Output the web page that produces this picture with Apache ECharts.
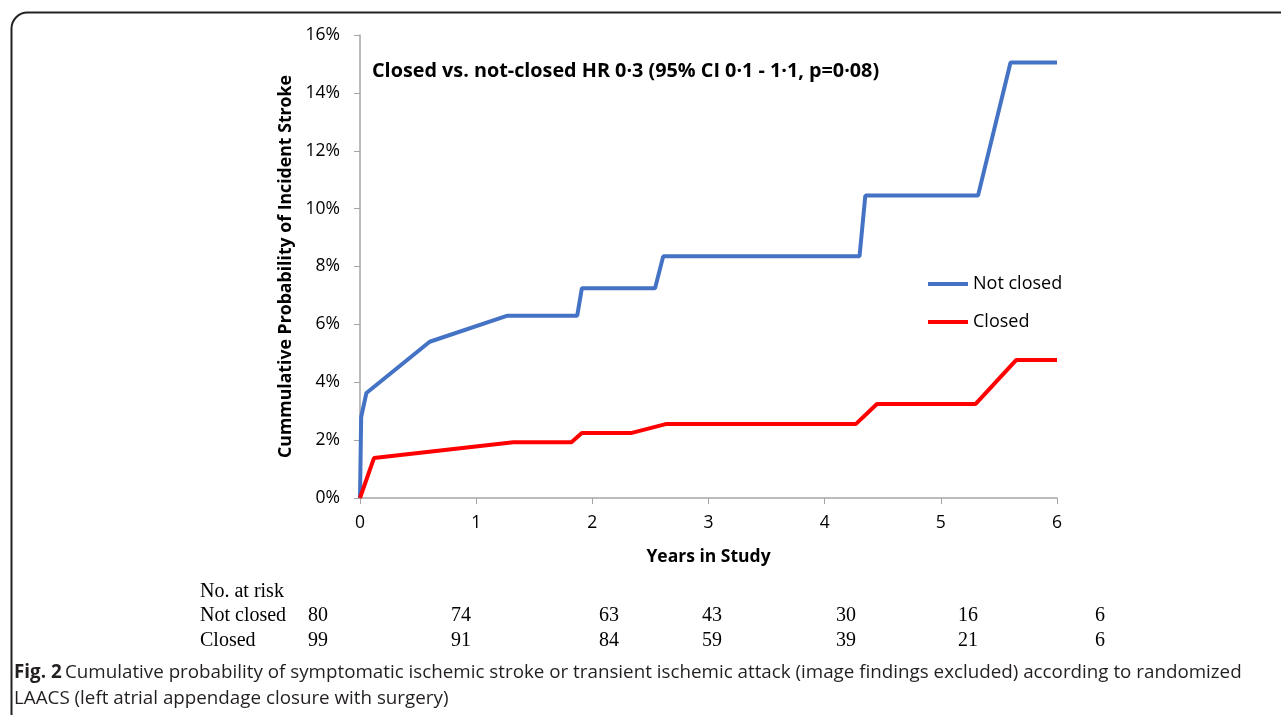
<!DOCTYPE html>
<html>
<head>
<meta charset="utf-8">
<script src="https://cdn.jsdelivr.net/npm/echarts@6/dist/echarts.min.js"></script>
<style>
html, body { margin: 0; padding: 0; background: #fff; }
#main { width: 1281px; height: 715px; }
</style>
</head>
<body>
<div id="main"></div>
<script>
// Kaplan-Meier style curves, x = years, y = cumulative probability
var notClosedYears = [0, 0.01, 0.055, 0.6, 1.27, 1.87, 1.91, 2.54, 2.61, 4.30, 4.35, 5.32, 5.6, 6];
var notClosedProb  = [0, 0.028, 0.0363, 0.054, 0.063, 0.063, 0.0725, 0.0725, 0.0835, 0.0835, 0.1045, 0.1045, 0.1505, 0.1505];
var closedYears = [0, 0.12, 1.32, 1.82, 1.91, 2.34, 2.64, 4.27, 4.45, 5.30, 5.65, 6];
var closedProb  = [0, 0.0138, 0.0193, 0.0193, 0.0225, 0.0225, 0.0256, 0.0256, 0.0325, 0.0325, 0.0477, 0.0477];

var seriesNames = ['Not closed', 'Closed'];

// numbers at risk
var riskNotClosed = [80, 74, 63, 43, 30, 16, 6];
var riskClosed    = [99, 91, 84, 59, 39, 21, 6];
var riskColX      = [318, 461, 609, 712, 846, 968, 1100];

var annotation = 'Closed vs. not-closed HR 0\u00b73 (95% CI 0\u00b71 - 1\u00b71, p=0\u00b708)';

function pairs(xs, ys) {
    var out = [];
    for (var i = 0; i < xs.length; i++) out.push([xs[i], ys[i]]);
    return out;
}

var chart = echarts.init(document.getElementById('main'));

var sans = '"Open Sans", Lato, sans-serif';
var serif = '"Liberation Serif", "DejaVu Serif", serif';

var graphics = [
    { type: 'rect', left: 9, top: 10, shape: { width: 1300, height: 720, r: 16 },
      style: { fill: 'none', stroke: '#222', lineWidth: 2 }, silent: true },
    { type: 'text', left: 372, top: 61,
      style: { text: annotation, font: 'bold 19.8px ' + sans, fill: '#000' } },
    { type: 'text', left: 200, top: 582,
      style: { text: 'No. at risk', font: '20px ' + serif, fill: '#000' } },
    { type: 'text', left: 200, top: 606,
      style: { text: 'Not closed', font: '20px ' + serif, fill: '#000' } },
    { type: 'text', left: 200, top: 631,
      style: { text: 'Closed', font: '20px ' + serif, fill: '#000' } },
    { type: 'text', left: 14, top: 663,
      style: { rich: { b: { font: 'bold 18.8px "Open Sans", sans-serif', fill: '#231f20' },
                       n: { font: '18.8px "Open Sans", sans-serif', fill: '#231f20' } },
               text: '{b|Fig. 2} {n|Cumulative probability of symptomatic ischemic stroke or transient ischemic attack (image findings excluded) according to randomized}' } },
    { type: 'text', left: 14, top: 689,
      style: { text: 'LAACS (left atrial appendage closure with surgery)', font: '18.8px "Open Sans", sans-serif', fill: '#231f20' } }
];
for (var i = 0; i < riskColX.length; i++) {
    graphics.push({ type: 'text', x: riskColX[i], y: 616,
        style: { text: String(riskNotClosed[i]), font: '20px ' + serif, fill: '#000', align: 'center', verticalAlign: 'middle' } });
    graphics.push({ type: 'text', x: riskColX[i], y: 641,
        style: { text: String(riskClosed[i]), font: '20px ' + serif, fill: '#000', align: 'center', verticalAlign: 'middle' } });
}

chart.setOption({
    animation: false,
    backgroundColor: '#fff',
    textStyle: { fontFamily: sans },
    grid: { left: 360, right: 224, top: 35, bottom: 217 },
    legend: {
        data: seriesNames,
        orient: 'vertical',
        left: 928, top: 273, padding: 0,
        icon: 'rect',
        itemWidth: 40, itemHeight: 4, itemGap: 16,
        textStyle: { fontSize: 18, color: '#000', fontFamily: sans, lineHeight: 22 }
    },
    xAxis: {
        type: 'value', min: 0, max: 6, interval: 1,
        name: 'Years in Study', nameLocation: 'middle', nameGap: 50,
        nameTextStyle: { fontSize: 17.5, fontWeight: 'bold', color: '#000', fontFamily: sans },
        axisLine: { lineStyle: { color: '#a6a6a6', width: 1.5 } },
        axisTick: { show: true, length: 6, lineStyle: { color: '#a6a6a6' } },
        axisLabel: { fontSize: 17.5, color: '#000', margin: 16 },
        splitLine: { show: false }
    },
    yAxis: {
        type: 'value', min: 0, max: 0.16, interval: 0.02,
        name: 'Cummulative Probability of Incident Stroke', nameLocation: 'middle', nameGap: 62,
        nameTextStyle: { fontSize: 17.7, fontWeight: 'bold', color: '#000', fontFamily: sans },
        axisLine: { show: true, lineStyle: { color: '#a6a6a6', width: 1.5 } },
        axisTick: { show: true, length: 6, lineStyle: { color: '#a6a6a6' } },
        axisLabel: { fontSize: 17.5, color: '#000', margin: 20,
            formatter: function (v) { return Math.round(v * 100) + '%'; } },
        splitLine: { show: false }
    },
    series: [
        { name: seriesNames[0], type: 'line', data: pairs(notClosedYears, notClosedProb),
          showSymbol: false, symbol: 'none', color: '#4472C4',
          lineStyle: { width: 4, color: '#4472C4' } },
        { name: seriesNames[1], type: 'line', data: pairs(closedYears, closedProb),
          showSymbol: false, symbol: 'none', color: '#FF0000',
          lineStyle: { width: 4, color: '#FF0000' } }
    ],
    graphic: graphics
});
</script>
</body>
</html>
